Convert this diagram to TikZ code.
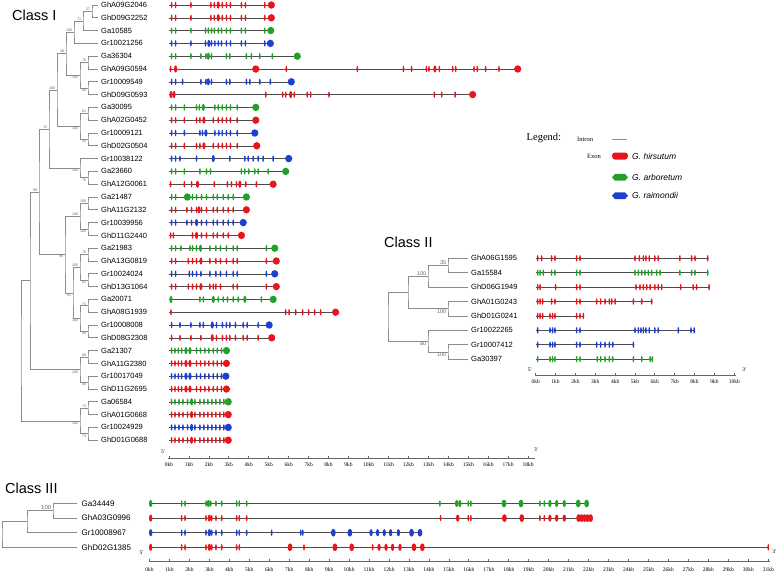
\documentclass[tikz,border=0pt]{standalone}
\usepackage{fontspec}
\setmainfont{Liberation Sans}
\newfontfamily\timesfont{Liberation Serif}
\usetikzlibrary{calc,positioning}
\definecolor{hir}{RGB}{232,22,28}
\definecolor{arb}{RGB}{34,160,40}
\definecolor{rai}{RGB}{30,64,210}
\tikzset{branch/.style={draw=black!45,line width=.8pt}}
\tikzset{intron/.style={draw=black!70,line width=.6pt}}
\tikzset{axisl/.style={draw=black!60,line width=.8pt}}
\tikzset{gn/.style={inner sep=0pt,font=\fontsize{7.5}{7.5}\selectfont}}
\tikzset{boot/.style={inner sep=.6pt,xshift=-1pt,text=black!60,font=\fontsize{3.6}{3.6}\selectfont}}
\tikzset{kb/.style={inner sep=0pt,font=\timesfont\fontsize{5.5}{5.5}\selectfont}}
\tikzset{ttl/.style={inner sep=0pt,anchor=west,font=\fontsize{14.5}{14.5}\selectfont}}
\tikzset{exT/.style={x radius=.9pt,y radius=3.3pt}}
\tikzset{exM/.style={x radius=1.6pt,y radius=3.6pt}}
\tikzset{exB/.style={x radius=3.6pt,y radius=3.7pt}}

% clade: name, x, upper child, lower child, bootstrap, side of label
\newcommand\clade[6]{%
  \path ($(#3)!.5!(#4)$) coordinate (#1m);
  \coordinate (#1) at (#1m -| #2,0);
  \draw[branch] (#3) -| (#1) |- (#4);
  \if\relax\detokenize{#5}\relax\else\node[boot,#6] at (#1) {#5};\fi}
% gene: leaf, colour, length (kb), small, medium, large exons
\newcommand\gene[6]{%
  \coordinate (g) at (0,0 |- #1);
  \draw[intron] (g) -- ++(#3,0);
  \if\relax\detokenize{#4}\relax\else\foreach \e in {#4} \fill[#2] (g) ++(\e,0) ellipse[exT];\fi
  \if\relax\detokenize{#5}\relax\else\foreach \e in {#5} \fill[#2] (g) ++(\e,0) ellipse[exM];\fi
  \if\relax\detokenize{#6}\relax\else\foreach \e in {#6} \fill[#2] (g) ++(\e,0) ellipse[exB];\fi}

\begin{document}
\begin{tikzpicture}[x=1pt,y=-1pt]
\useasboundingbox (0,0) rectangle (778,574);

% Class I
\node[ttl] (cI) at (12,15.5) {Class I};
\foreach \g [count=\i from 0] in {GhA09G2046,GhD09G2252,Ga10585,Gr10021256,Ga36304,GhA09G0594,Gr10009549,GhD09G0593,Ga30095,GhA02G0452,Gr10009121,GhD02G0504,Gr10038122,Ga23660,GhA12G0061,Ga21487,GhA11G2132,Gr10039956,GhD11G2440,Ga21983,GhA13G0819,Gr10024024,GhD13G1064,Ga20071,GhA08G1939,Gr10008008,GhD08G2308,Ga21307,GhA11G2380,Gr10017049,GhD11G2695,Ga06584,GhA01G0668,Gr10024929,GhD01G0688}{
  \coordinate (\g) at (98,5+12.8*\i);
  \node[gn,right=3pt of \g] {\g};
}
\clade{n1}{92}{GhA09G2046}{GhD09G2252}{27}{above left}
\clade{n2}{83}{n1}{Ga10585}{71}{above left}
\clade{n3}{74}{n2}{Gr10021256}{100}{above left}
\clade{n4}{88}{Ga36304}{GhA09G0594}{76}{above left}
\clade{n5}{88}{Gr10009549}{GhD09G0593}{66}{below left}
\clade{n6}{80}{n4}{n5}{100}{below left}
\clade{n7}{66}{n3}{n6}{48}{above left}
\clade{n8}{88}{Ga30095}{GhA02G0452}{61}{above left}
\clade{n9}{88}{Gr10009121}{GhD02G0504}{55}{below left}
\clade{n10}{80}{n8}{n9}{100}{below left}
\clade{n11}{57}{n7}{n10}{100}{above left}
\clade{n12}{88}{Ga23660}{GhA12G0061}{76}{below left}
\clade{n13}{80}{Gr10038122}{n12}{100}{below left}
\clade{n14}{49}{n11}{n13}{72}{above left}
\clade{n15}{88}{Ga21487}{GhA11G2132}{100}{above left}
\clade{n16}{88}{Gr10039956}{GhD11G2440}{100}{below left}
\clade{n17}{80}{n15}{n16}{100}{above left}
\clade{n18}{88}{Ga21983}{GhA13G0819}{76}{above left}
\clade{n19}{88}{Gr10024024}{GhD13G1064}{61}{below left}
\clade{n20}{80}{n18}{n19}{100}{above left}
\clade{n21}{88}{Ga20071}{GhA08G1939}{74}{above left}
\clade{n22}{88}{Gr10008008}{GhD08G2308}{56}{below left}
\clade{n23}{80}{n21}{n22}{100}{below left}
\clade{n24}{73}{n20}{n23}{51}{below left}
\clade{n25}{65}{n17}{n24}{99}{below left}
\clade{n26}{88}{Ga21307}{GhA11G2380}{88}{above left}
\clade{n27}{88}{Gr10017049}{GhD11G2695}{96}{below left}
\clade{n28}{80}{n26}{n27}{100}{below left}
\clade{n29}{88}{Ga06584}{GhA01G0668}{73}{above left}
\clade{n30}{88}{Gr10024929}{GhD01G0688}{73}{below left}
\clade{n31}{80}{n29}{n30}{100}{below left}
\clade{n32}{39}{n14}{n25}{99}{above left}
\clade{n33}{30}{n32}{n28}{}{}
\clade{n34}{21}{n33}{n31}{}{}

\begin{scope}[shift={(169,0)},x=19.95pt]
  \gene{GhA09G2046}{hir}{5.13}{0.13,0.33,1.1,2.1,2.27,2.67,2.88,3.08,3.63,3.83,4.8}{2.47}{5.13}
  \gene{GhD09G2252}{hir}{5.13}{0.13,0.33,1.1,2.1,2.27,2.67,2.88,3.08,3.63,3.83,4.8}{2.47}{5.13}
  \gene{Ga10585}{arb}{5.1}{0.13,0.33,1.1,1.83,1.97,2.13,2.27,2.47,2.63,2.88,3.08,3.63,3.83,4.8}{}{5.1}
  \gene{Gr10021256}{rai}{5.08}{0.13,0.33,1.1,1.83,2.13,2.3,2.47,2.63,2.88,3.08,3.63,3.83,4.8}{2.0}{5.08}
  \gene{Ga36304}{arb}{6.43}{0.13,0.33,1.1,1.6,1.85,2.13,2.88,3.05,3.88,4.13,4.55,5.18}{1.97}{6.43}
  \gene{GhA09G0594}{hir}{17.48}{0.08,5.88,9.44,11.75,12.16,12.9,13.03,13.55,14.22,14.37,15.29,15.45,15.87,16.54}{0.33,13.33}{4.35,17.48}
  \gene{Gr10009549}{rai}{6.13}{0.13,0.33,0.68,1.6,1.85,2.13,2.88,3.05,3.88,4.05,4.55,5.08}{1.97}{6.13}
  \gene{GhD09G0593}{hir}{15.22}{4.85,5.7,5.85,6.28,6.93,7.1,8.02,13.3,13.67,14.34}{0.1,0.25,6.1}{15.22}
  \gene{Ga30095}{arb}{4.35}{0.13,0.33,0.77,1.38,1.52,2.3,2.47,2.67,2.88,3.08,3.42}{1.72}{4.35}
  \gene{GhA02G0452}{hir}{4.35}{0.13,0.33,0.77,1.38,1.55,2.22,2.47,2.67,2.88,3.08,3.42}{1.75}{4.35}
  \gene{Gr10009121}{rai}{4.3}{0.13,0.33,0.77,1.55,1.68,2.3,2.5,2.67,2.88,3.08,3.42}{1.85}{4.3}
  \gene{GhD02G0504}{hir}{4.4}{0.13,0.33,0.77,1.38,1.55,2.22,2.47,2.67,2.88,3.08,3.42}{1.75}{4.4}
  \gene{Gr10038122}{rai}{6.0}{0.13,0.33,0.55,1.38,3.05,3.8,3.97,4.22,4.47,4.72,5.22}{2.22}{6.0}
  \gene{Ga23660}{arb}{5.85}{0.13,0.33,0.77,1.55,1.88,2.08,3.63,3.8,4.0,4.3,4.47,4.97}{}{5.85}
  \gene{GhA12G0061}{hir}{5.22}{0.08,0.77,1.13,2.27,2.93,3.13,3.38,3.85,4.38}{1.43,3.55}{5.22}
  \gene{Ga21487}{arb}{3.88}{0.13,0.33,1.18,1.38,1.63,1.88,2.22,2.42,2.72,2.97,3.22}{}{0.92,3.88}
  \gene{GhA11G2132}{hir}{3.88}{0.13,0.33,0.9,1.13,1.38,1.63,1.88,2.22,2.42,2.72,2.97,3.22}{1.5}{3.88}
  \gene{Gr10039956}{rai}{3.72}{0.13,0.33,0.9,1.13,1.63,1.88,2.22,2.42,2.72,2.97,3.22}{1.38}{3.72}
  \gene{GhD11G2440}{hir}{3.63}{0.08,0.22,1.18,1.63,1.88,2.22,2.42,2.72,2.97}{1.38}{3.63}
  \gene{Ga21983}{arb}{5.3}{0.13,0.33,0.6,1.05,1.18,1.38,2.05,2.35,2.58,2.88,3.22,3.42,4.88}{1.58}{5.3}
  \gene{GhA13G0819}{hir}{5.38}{0.13,0.33,0.97,1.18,1.38,2.05,2.35,2.58,2.88,3.22,3.42,4.88}{1.6}{5.38}
  \gene{Gr10024024}{rai}{5.3}{0.13,0.33,1.02,1.18,1.38,1.6,2.05,2.35,2.58,2.88,3.22,3.42,4.88}{}{5.3}
  \gene{GhD13G1064}{hir}{5.38}{0.13,0.33,0.97,1.18,1.38,2.05,2.22,2.35,2.58,3.22,3.42,4.88}{1.6}{5.38}
  \gene{Ga20071}{arb}{5.22}{1.55,1.72,2.47,2.72,2.93,3.22,3.47,4.63}{0.1,2.22,3.8}{5.22}
  \gene{GhA08G1939}{hir}{8.35}{0.1,5.85,6.02,6.35,6.7,7.0,7.3,7.6}{}{8.35}
  \gene{Gr10008008}{rai}{5.02}{0.13,0.55,1.1,1.55,1.72,2.38,2.68,2.88,3.05,3.33,3.72,3.92,4.47}{2.17}{5.02}
  \gene{GhD08G2308}{hir}{5.15}{0.13,0.55,1.1,1.6,2.38,2.68,2.88,3.05,3.33,3.72,3.92,4.47}{2.17}{5.15}
  \gene{Ga21307}{arb}{2.88}{0.13,0.3,0.47,0.63,1.38,1.58,1.8,2.0,2.22,2.42,2.63}{0.85,1.05}{2.88}
  \gene{GhA11G2380}{hir}{2.88}{0.13,0.3,0.47,0.63,1.38,1.58,1.8,2.0,2.22,2.42,2.63}{0.85,1.05}{2.88}
  \gene{Gr10017049}{rai}{2.85}{0.13,0.3,0.47,0.63,1.38,1.58,1.8,2.0,2.22,2.42,2.63}{0.85,1.05}{2.85}
  \gene{GhD11G2695}{hir}{2.88}{0.13,0.3,0.47,0.63,1.38,1.58,1.8,2.0,2.22,2.42,2.63}{0.85,1.05}{2.88}
  \gene{Ga06584}{arb}{2.97}{0.13,0.3,0.5,0.7,0.93,1.3,1.55,1.75,1.95,2.15,2.35,2.55,2.75}{1.13}{2.97}
  \gene{GhA01G0668}{hir}{2.97}{0.13,0.3,0.5,0.7,0.93,1.3,1.55,1.75,1.95,2.15,2.35,2.55,2.75}{1.13}{2.97}
  \gene{Gr10024929}{rai}{2.97}{0.13,0.3,0.5,0.7,0.93,1.3,1.55,1.75,1.95,2.15,2.35,2.55,2.75}{1.13}{2.97}
  \gene{GhD01G0688}{hir}{2.97}{0.13,0.3,0.5,0.7,0.93,1.3,1.55,1.75,1.95,2.15,2.35,2.55,2.75}{1.13}{2.97}
  % scale
  \draw[axisl] (-0.05,458) -- (18.35,458);
  \foreach \k in {0,...,18}{
    \draw[axisl] (\k,458) -- ++(0,-2.5);
    \node[kb] at (\k,464.5) {\k kb};
  }
  \node[kb] at (-0.3,452) {5'};
  \node[kb] at (18.4,449.5) {3'};
\end{scope}

% Legend
\node[inner sep=0pt,anchor=west,font=\timesfont\fontsize{10.5}{10.5}\selectfont] (legend) at (526.5,138) {Legend:};
\node[kb,anchor=west,font=\timesfont\fontsize{6.5}{6.5}\selectfont] (intron) at (577,139) {Intron};
\node[kb,anchor=west,font=\timesfont\fontsize{6.5}{6.5}\selectfont] (exon) at (587,156) {Exon};
\coordinate (il) at (612,139);
\draw[draw=black!45,line width=1pt] (il) -- ++(15,0);
\fill[hir,rounded corners=3pt] (612,152.5) rectangle (628,159.5);
\fill[arb] (612,177.3) -- ++(3,-3.4) -- ++(10,0) -- ++(3,3.4) -- ++(-3,3.4) -- ++(-10,0) -- cycle;
\fill[rai] (612,195.7) -- ++(3,-3.4) -- ++(10,0) -- ++(3,3.4) -- ++(-3,3.4) -- ++(-10,0) -- cycle;
\node[inner sep=0pt,anchor=west,font=\itshape\fontsize{8.5}{8.5}\selectfont] (ghir) at (632,156) {G. hirsutum};
\node[inner sep=0pt,anchor=west,font=\itshape\fontsize{8.5}{8.5}\selectfont] (garb) at (632,177.3) {G. arboretum};
\node[inner sep=0pt,anchor=west,font=\itshape\fontsize{8.5}{8.5}\selectfont] (grai) at (632,195.7) {G. raimondii};

% Class II
\node[ttl] (cII) at (384,242) {Class II};
\foreach \g [count=\i from 0] in {GhA06G1595,Ga15584,GhD06G1949,GhA01G0243,GhD01G0241,Gr10022265,Gr10007412,Ga30397}{
  \coordinate (\g) at (468,258.3+14.4*\i);
  \node[gn,right=3pt of \g] {\g};
}
\begin{scope}[boot/.append style={font=\fontsize{5.5}{5.5}\selectfont}]
\clade{c1}{448}{GhA06G1595}{Ga15584}{35}{above left}
\clade{c2}{428}{c1}{GhD06G1949}{100}{above left}
\clade{c3}{448}{GhA01G0243}{GhD01G0241}{100}{below left}
\clade{c4}{408}{c2}{c3}{}{}
\clade{c5}{448}{Gr10007412}{Ga30397}{100}{below left}
\clade{c6}{428}{Gr10022265}{c5}{80}{below left}
\clade{c7}{388}{c4}{c6}{}{}
\end{scope}
\begin{scope}[shift={(535.7,0)},x=19.86pt]
  \gene{GhA06G1595}{hir}{8.66}{0.1,0.3,0.8,0.97,2.06,2.23,5.0,5.22,5.42,5.55,5.72,6.0,6.17,7.26,7.85,8.02,8.66}{}{}
  \gene{Ga15584}{arb}{8.66}{0.1,0.22,0.38,0.8,0.97,2.06,2.23,5.0,5.17,5.34,5.5,5.67,5.84,6.09,6.26,7.26,7.85,8.02,8.66}{}{}
  \gene{GhD06G1949}{hir}{8.73}{0.1,0.22,1.0,2.06,2.23,5.05,5.25,5.42,5.59,5.76,6.0,6.17,6.34,7.3,7.93,8.1,8.73}{}{}
  \gene{GhA01G0243}{hir}{5.84}{0.1,0.22,0.35,0.8,0.97,2.06,2.23,3.07,3.27,3.49,3.71,3.83,4.0,4.92,5.34,5.84}{}{}
  \gene{GhD01G0241}{hir}{2.4}{0.1,0.22,0.35,0.72,0.85,0.97,2.06,2.23,2.4}{}{}
  \gene{Gr10022265}{rai}{8.0}{0.1,0.72,0.85,0.97,2.06,2.23,5.0,5.17,5.3,5.42,5.55,5.72,6.0,6.17,7.18,7.82,7.98}{}{}
  \gene{Gr10007412}{rai}{4.92}{0.1,0.72,0.85,0.97,2.06,2.23,3.07,3.27,3.49,3.71,3.88,4.92}{}{}
  \gene{Ga30397}{arb}{5.87}{0.1,0.72,0.85,0.97,2.06,2.23,3.1,3.27,3.49,3.71,3.88,4.92,5.34,5.76,5.87}{}{}
  \draw[axisl] (-0.05,375) -- (10.1,375);
  \foreach \k in {0,...,10}{
    \draw[axisl] (\k,375) -- ++(0,-2.5);
    \node[kb] at (\k,382) {\k kb};
  }
  \node[kb] at (-0.3,369.5) {5'};
  \node[kb] at (10.5,369.5) {3'};
\end{scope}

% Class III
\node[ttl] (cIII) at (5,488) {Class III};
\foreach \g [count=\i from 0] in {Ga34449,GhA03G0996,Gr10008967,GhD02G1385}{
  \coordinate (\g) at (77,503.5+14.6*\i);
  \node[gn,right=4.5pt of \g,font=\fontsize{8}{8}\selectfont] {\g};
}
\begin{scope}[boot/.append style={font=\fontsize{6}{6}\selectfont}]
\clade{d1}{53}{Ga34449}{GhA03G0996}{100}{above left}
\clade{d2}{27}{d1}{Gr10008967}{}{}
\clade{d3}{2}{d2}{GhD02G1385}{}{}
\end{scope}
\begin{scope}[shift={(149.5,0)},x=19.96pt,exB/.style={x radius=2.4pt,y radius=3.9pt},exM/.style={x radius=1.7pt,y radius=3.6pt}]
  \gene{Ga34449}{arb}{21.9}{1.61,1.78,2.83,3.07,3.33,3.62,4.37,4.5,4.87,14.55,15.97,16.1,19.56,19.78}{0.06,2.95,15.39,15.55,20.06,20.4,20.78}{17.76,18.61,21.48,21.9}
  \gene{GhA03G0996}{hir}{22.1}{1.61,1.78,2.83,3.12,3.33,3.62,4.37,4.5,4.87,14.58,15.97,16.1,19.56,19.78}{0.06,3.0,15.44,20.06,20.4,20.78}{17.78,18.65,21.5,21.65,21.8,21.95,22.1}
  \gene{Gr10008967}{rai}{13.6}{1.61,1.78,2.83,3.12,3.33,3.62,4.37,4.5,4.87,6.12,7.58,7.68}{0.06,3.0,11.1,11.43,11.76,12.08,12.47}{9.21,10.04,13.13,13.55}
  \gene{GhD02G1385}{hir}{31.0}{1.61,1.78,2.83,3.12,3.33,3.62,4.37,4.5,7.74,11.18,31.0}{0.06,3.0,11.5,11.85,12.18,12.55}{7.04,9.29,10.13,13.25,13.67}
  \draw[axisl] (-0.05,561.7) -- (31.1,561.7);
  \foreach \k in {0,...,31}{
    \draw[axisl] (\k,561.7) -- ++(0,-2.5);
    \node[kb] at (\k,570) {\k kb};
  }
  \node[kb] at (-0.4,553) {5'};
  \node[kb] at (31.3,552) {3'};
\end{scope}
\end{tikzpicture}
\end{document}
